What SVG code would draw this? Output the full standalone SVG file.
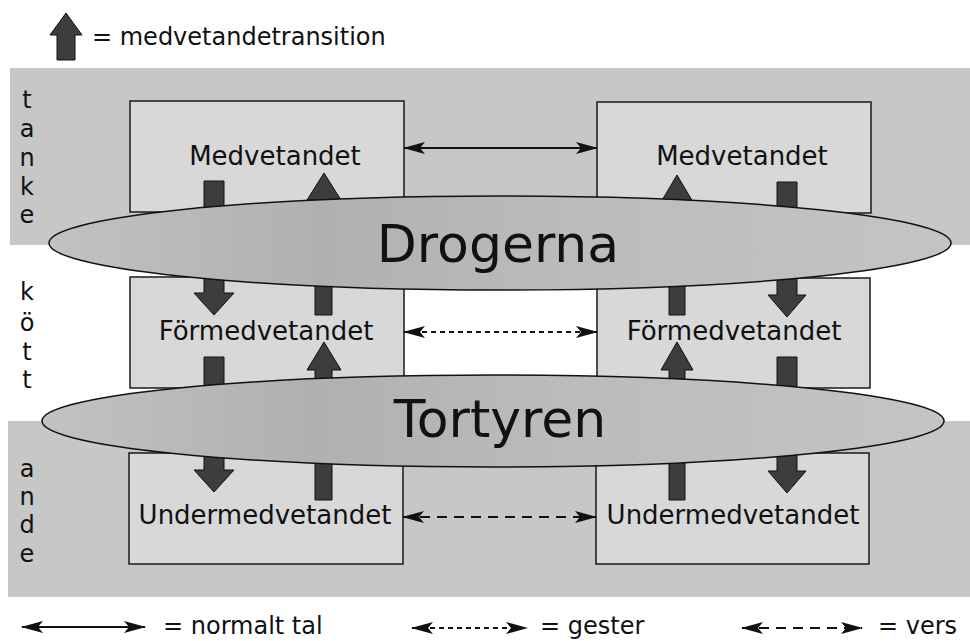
<svg xmlns="http://www.w3.org/2000/svg" width="970" height="641" viewBox="0 0 970 641">
<style>
text{font-family:"DejaVu Sans","Liberation Sans",sans-serif;fill:#111}
.band{fill:#c7c7c7}
.box{fill:#d8d8d8;stroke:#1a1a1a;stroke-width:1.5}
.lbl{font-size:26px;text-anchor:middle}
.side{font-size:24px;text-anchor:middle}
.leg{font-size:24px}
.big{font-size:52px;text-anchor:middle}
.blk{fill:#3d3d3d;stroke:#111;stroke-width:1}
.ell{fill:url(#eg);stroke:#111;stroke-width:1.5}
.con{stroke:#111;stroke-width:1.8;fill:none}
.dot{stroke-dasharray:5 4}
.dash{stroke-dasharray:10 7}
</style>
<defs>
<linearGradient id="eg" x1="0" y1="0" x2="1" y2="0">
<stop offset="0" stop-color="#c2c2c2"/>
<stop offset="0.3" stop-color="#b0b0b0"/>
<stop offset="0.6" stop-color="#bcbcbc"/>
<stop offset="1" stop-color="#c4c4c4"/>
</linearGradient>
<marker id="ah" viewBox="0 0 22 12" refX="21" refY="6" markerWidth="22" markerHeight="12" markerUnits="userSpaceOnUse" orient="auto-start-reverse">
<path d="M0,0 L22,6 L0,12 L5,6 z" fill="#111"/>
</marker>
</defs>

<g id="bands">
<rect class="band" x="10" y="68" width="960" height="177"/>
<rect class="band" x="8" y="421" width="962" height="176"/>
</g>

<g id="side-labels">
<text class="side" x="27" y="108">t</text>
<text class="side" x="27" y="137">a</text>
<text class="side" x="27" y="166">n</text>
<text class="side" x="27" y="195">k</text>
<text class="side" x="27" y="223">e</text>
<text class="side" x="27" y="300">k</text>
<text class="side" x="27" y="331">ö</text>
<text class="side" x="27" y="360">t</text>
<text class="side" x="27" y="388">t</text>
<text class="side" x="27" y="477">a</text>
<text class="side" x="27" y="505">n</text>
<text class="side" x="27" y="533">d</text>
<text class="side" x="27" y="562">e</text>
</g>

<g id="node-med-l"><rect class="box" x="130" y="101" width="274" height="111"/><text class="lbl" x="275" y="165">Medvetandet</text></g>
<g id="node-med-r"><rect class="box" x="597" y="102" width="274" height="111"/><text class="lbl" x="742" y="165">Medvetandet</text></g>
<g id="node-for-l"><rect class="box" x="130" y="277" width="274" height="111"/><text class="lbl" x="266" y="340">Förmedvetandet</text></g>
<g id="node-for-r"><rect class="box" x="597" y="278" width="273" height="110"/><text class="lbl" x="734" y="340">Förmedvetandet</text></g>
<g id="node-und-l"><rect class="box" x="129" y="453" width="274" height="111"/><text class="lbl" x="265" y="524">Undermedvetandet</text></g>
<g id="node-und-r"><rect class="box" x="596" y="453" width="273" height="111"/><text class="lbl" x="733" y="524">Undermedvetandet</text></g>

<g id="connectors">
<line class="con" x1="404" y1="148" x2="597" y2="148" marker-start="url(#ah)" marker-end="url(#ah)"/>
<line class="con dot" x1="404" y1="332" x2="597" y2="332" marker-start="url(#ah)" marker-end="url(#ah)"/>
<line class="con dash" x1="403" y1="517" x2="596" y2="517" marker-start="url(#ah)" marker-end="url(#ah)"/>
</g>

<g id="transitions">
<path class="blk" d="M204,181 H224 V293 H234 L214,315 L194,293 H204 Z"/>
<path class="blk" d="M315,315 V200 H307 L324,173 L341,200 H332 V315 Z"/>
<path class="blk" d="M204,357 H224 V470 H234 L214,492 L194,470 H204 Z"/>
<path class="blk" d="M315,500 V370 H307 L324,342 L341,370 H332 V500 Z"/>
<path class="blk" d="M669,315 V202 H661 L677,175 L693,202 H685 V315 Z"/>
<path class="blk" d="M777,182 H797 V295 H806 L787,317 L768,295 H777 Z"/>
<path class="blk" d="M669,500 V370 H661 L677,342 L693,370 H685 V500 Z"/>
<path class="blk" d="M777,357 H797 V471 H806 L787,493 L768,471 H777 Z"/>
</g>

<g id="node-drogerna">
<ellipse class="ell" cx="500" cy="243" rx="451" ry="47"/>
<text class="big" x="498" y="262">Drogerna</text>
</g>
<g id="node-tortyren">
<ellipse class="ell" cx="493" cy="421" rx="451" ry="46"/>
<text class="big" x="500" y="437">Tortyren</text>
</g>

<g id="legend">
<path class="blk" d="M57,60 V35 H50 L66,13 L82,35 H75 V60 Z"/>
<text class="leg" x="92" y="45">= medvetandetransition</text>
<line class="con" x1="22" y1="627" x2="145" y2="627" marker-start="url(#ah)" marker-end="url(#ah)"/>
<text class="leg" x="163" y="634">= normalt tal</text>
<line class="con dot" x1="412" y1="628" x2="527" y2="628" marker-start="url(#ah)" marker-end="url(#ah)"/>
<text class="leg" x="540" y="634">= gester</text>
<line class="con dash" x1="742" y1="628" x2="862" y2="628" marker-start="url(#ah)" marker-end="url(#ah)"/>
<text class="leg" x="878" y="634">= vers</text>
</g>
</svg>
